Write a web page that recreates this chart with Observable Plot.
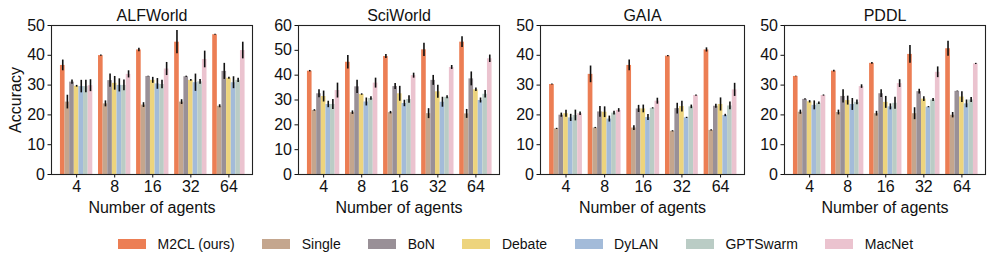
<!DOCTYPE html>
<html>
<head>
<meta charset="utf-8">
<script src="https://cdn.jsdelivr.net/npm/d3@7"></script>
<script src="https://cdn.jsdelivr.net/npm/@observablehq/plot@0.6"></script>
<style>
  html, body { margin: 0; padding: 0; background: white; }
  #root { position: relative; width: 996px; height: 266px; overflow: hidden; font-family: 'Liberation Sans', Arial, sans-serif; }
  .panel { position: absolute; top: 0; }
  #legend { position: absolute; top: 236px; left: 118px; display: flex; align-items: center; font-size: 14px; color: #111; }
  .item { display: flex; align-items: center; margin-right: 27.5px; }
  .sw { width: 28px; height: 10.5px; margin-right: 11.5px; }
</style>
</head>
<body>
<div id="root"><div id="legend"></div></div>
<script>
// ---- data ----
const agents = ["4", "8", "16", "32", "64"];
const methods = ["M2CL (ours)", "Single", "BoN", "Debate", "DyLAN", "GPTSwarm", "MacNet"];
const colors = ["#EC7E54", "#C4A68E", "#999097", "#EDD47D", "#A3BBD9", "#BACCC5", "#EBC3CF"];
const datasets = ["ALFWorld", "SciWorld", "GAIA", "PDDL"];

// rows: methods (in order above); columns: agents 4, 8, 16, 32, 64
const alfworldMean = [
  [36.6, 39.9, 41.8, 44.4, 46.9],
  [24.3, 23.7, 23.3, 24.3, 22.9],
  [31.0, 31.5, 32.9, 32.8, 34.6],
  [29.6, 30.6, 31.6, 31.6, 32.3],
  [29.5, 29.9, 30.4, 30.8, 30.8],
  [29.5, 29.9, 30.2, 31.1, 31.6],
  [29.8, 33.6, 35.4, 38.6, 41.6]
];
const alfworldErr = [
  [1.8, 0.2, 0.6, 3.9, 0.2],
  [2.3, 1.0, 0.8, 0.8, 0.5],
  [0.7, 2.2, 0.1, 0.2, 2.7],
  [0.3, 2.3, 1.0, 0.3, 0.3],
  [2.1, 2.2, 1.8, 2.9, 2.0],
  [2.1, 1.8, 1.4, 0.8, 0.7],
  [2.0, 1.2, 2.2, 2.8, 2.8]
];
const sciworldMean = [
  [41.6, 45.2, 47.5, 50.2, 53.3],
  [25.8, 24.9, 24.9, 24.5, 24.4],
  [32.5, 35.3, 35.4, 37.9, 38.5],
  [31.4, 32.2, 32.5, 33.3, 34.1],
  [28.2, 29.2, 28.6, 29.1, 29.8],
  [28.2, 30.6, 30.2, 31.1, 32.3],
  [33.8, 36.8, 39.8, 43.1, 46.6]
];
const sciworldErr = [
  [0.3, 2.7, 0.8, 2.7, 2.2],
  [0.3, 0.7, 0.5, 2.0, 1.8],
  [1.6, 2.7, 1.2, 2.0, 2.8],
  [2.2, 0.3, 3.0, 2.6, 0.7],
  [1.3, 1.6, 1.3, 2.0, 1.0],
  [2.0, 0.7, 1.5, 0.6, 1.5],
  [3.0, 2.0, 1.0, 0.8, 1.5]
];
const gaiaMean = [
  [30.2, 33.6, 36.6, 39.7, 41.8],
  [15.3, 15.6, 15.6, 14.5, 14.8],
  [19.9, 21.0, 22.0, 22.1, 22.9],
  [20.4, 20.9, 22.0, 22.8, 23.5],
  [19.0, 18.6, 19.1, 19.0, 19.8],
  [19.8, 20.6, 22.2, 22.7, 23.0],
  [20.4, 21.5, 24.6, 26.5, 28.4]
];
const gaiaErr = [
  [0.2, 2.8, 1.8, 0.2, 0.7],
  [0.2, 0.2, 0.8, 0.2, 0.2],
  [0.7, 1.8, 1.2, 1.8, 0.7],
  [1.2, 1.8, 1.3, 1.8, 2.2],
  [1.2, 1.0, 1.0, 0.2, 0.4],
  [1.8, 0.6, 0.2, 0.6, 1.3],
  [0.6, 0.6, 1.0, 0.2, 2.2]
];
const pddlMean = [
  [32.9, 34.7, 37.3, 40.3, 42.2],
  [20.9, 20.8, 20.4, 20.4, 19.9],
  [25.2, 26.2, 27.1, 27.8, 27.9],
  [24.4, 24.8, 24.2, 25.3, 26.0],
  [23.2, 23.5, 22.7, 22.6, 23.7],
  [23.9, 24.2, 23.9, 25.0, 25.0],
  [26.5, 29.5, 30.5, 34.3, 37.1]
];
const pddlErr = [
  [0.1, 0.3, 0.3, 3.0, 2.5],
  [0.7, 0.8, 0.8, 2.0, 0.9],
  [0.2, 2.2, 1.3, 0.8, 0.1],
  [0.4, 1.5, 2.0, 0.8, 1.8],
  [1.5, 2.0, 1.0, 0.2, 1.3],
  [0.4, 0.8, 2.0, 0.5, 0.8],
  [0.2, 0.6, 1.3, 1.8, 0.2]
];
const yMaxes = [50, 60, 50, 50];

// ---- layout ----
const frames = [[51, 252], [298, 499], [540, 744], [784, 985]];
const frameTop = 25, frameBottom = 174, svgHeight = 230;
const groupWidth = 0.85, bw = groupWidth / methods.length;
const font = "'Liberation Sans', Arial, sans-serif";

const means = [alfworldMean, sciworldMean, gaiaMean, pddlMean];
const errs = [alfworldErr, sciworldErr, gaiaErr, pddlErr];
const root = document.getElementById("root");

datasets.forEach((name, k) => {
  const rows = [];
  methods.forEach((m, mi) => {
    agents.forEach((a, gi) => {
      rows.push({g: gi, m: mi, method: m, v: means[k][mi][gi], e: errs[k][mi][gi]});
    });
  });
  const [fl, fr] = frames[k];
  const marginLeft = k === 0 ? 51 : 44;
  const marginRight = 8;
  const width = marginLeft + (fr - fl) + marginRight;
  const yMax = yMaxes[k];
  const marks = [
    Plot.rect(rows, {
      x1: d => d.g + (d.m - 3.5) * bw,
      x2: d => d.g + (d.m - 2.5) * bw,
      y1: 0, y2: "v", fill: "method"
    }),
    Plot.ruleX(rows, {
      x: d => d.g + (d.m - 3) * bw,
      y1: d => d.v - d.e, y2: d => d.v + d.e,
      stroke: "#111", strokeWidth: 1.6
    }),
    Plot.frame({stroke: "#222", strokeWidth: 1.1}),
    Plot.text([name], {frameAnchor: "top", lineAnchor: "middle", textAnchor: "middle", dy: -10, fontSize: 16, fill: "#111"}),
    Plot.text(["Number of agents"], {frameAnchor: "bottom", lineAnchor: "middle", textAnchor: "middle", dy: 33, fontSize: 16, fill: "#111"})
  ];
  if (k === 0) {
    marks.push(Plot.text(["Accuracy"], {frameAnchor: "left", lineAnchor: "middle", textAnchor: "middle", dx: -36, rotate: -90, fontSize: 16, fill: "#111"}));
  }
  const chart = Plot.plot({
    width, height: svgHeight,
    marginLeft, marginRight, marginTop: frameTop, marginBottom: svgHeight - frameBottom,
    style: {fontSize: "16px", fontFamily: font, color: "#111", background: "transparent", overflow: "visible"},
    x: {type: "linear", domain: [-0.66, 4.62], ticks: [0, 1, 2, 3, 4], tickFormat: i => agents[i], tickSize: 3.5, tickPadding: 3, label: null},
    y: {domain: [0, yMax], ticks: d3.range(0, yMax + 1, 10), tickSize: 3.5, tickPadding: 3, label: null},
    color: {domain: methods, range: colors},
    marks
  });
  chart.classList.add("panel");
  chart.style.left = (fl - marginLeft) + "px";
  root.appendChild(chart);
});

// ---- legend ----
const legend = document.getElementById("legend");
methods.forEach((m, i) => {
  const item = document.createElement("div");
  item.className = "item";
  const sw = document.createElement("div");
  sw.className = "sw";
  sw.style.background = colors[i];
  const label = document.createElement("span");
  label.textContent = m;
  item.appendChild(sw);
  item.appendChild(label);
  legend.appendChild(item);
});
</script>
</body>
</html>
